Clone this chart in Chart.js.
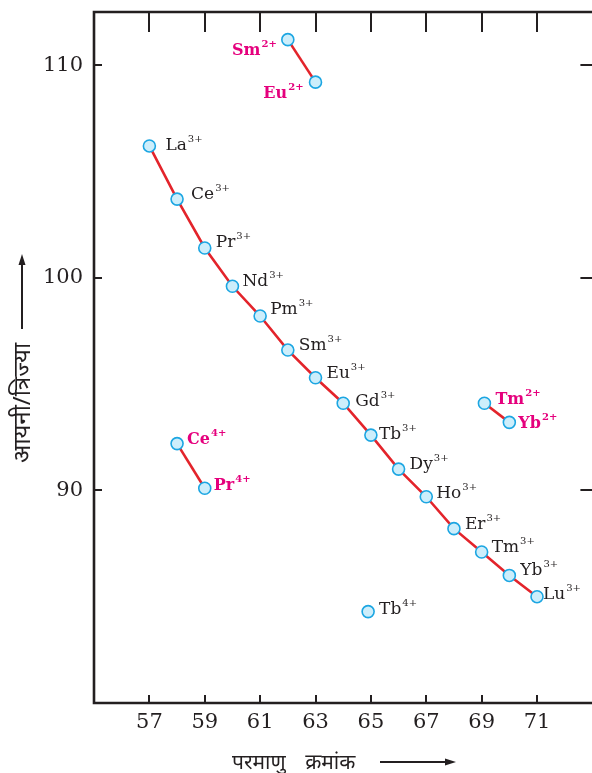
<!DOCTYPE html>
<html><head><meta charset="utf-8">
<script src="https://cdn.jsdelivr.net/npm/chart.js@4.4.1/dist/chart.umd.min.js"></script>
<style>html,body{margin:0;padding:0;background:#fff;overflow:hidden;width:592px;height:773px}</style>
</head><body>
<canvas id="c" width="600" height="773" style="width:600px;height:773px;display:block"></canvas>
<script>
// ---------- data ----------
const xTicks = [57, 59, 61, 63, 65, 67, 69, 71];
const yTicks = [90, 100, 110];

const ln3Atomic = [57, 58, 59, 60, 61, 62, 63, 64, 65, 66, 67, 68, 69, 70, 71];
const ln3Radius = [106.2, 103.7, 101.4, 99.6, 98.2, 96.6, 95.3, 94.1, 92.6, 91.0, 89.7, 88.2, 87.1, 86.0, 85.0];
const ln3Names  = ['La', 'Ce', 'Pr', 'Nd', 'Pm', 'Sm', 'Eu', 'Gd', 'Tb', 'Dy', 'Ho', 'Er', 'Tm', 'Yb', 'Lu'];
const ln3Charge = '3+';

const smEuAtomic = [62, 63];
const smEuRadius = [111.2, 109.2];
const smEuNames  = ['Sm', 'Eu'];
const smEuCharge = '2+';

const cePrAtomic = [58, 59];
const cePrRadius = [92.2, 90.1];
const cePrNames  = ['Ce', 'Pr'];
const cePrCharge = '4+';

const tmYbAtomic = [69.1, 70];
const tmYbRadius = [94.1, 93.2];
const tmYbNames  = ['Tm', 'Yb'];
const tmYbCharge = '2+';

const tb4Atomic = [64.9];
const tb4Radius = [84.3];
const tb4Names  = ['Tb'];
const tb4Charge = '4+';

const xTitle = 'परमाणु क्रमांक';
const yTitle = 'आयनी/त्रिज्या';

// ---------- label placement (pixel offsets from the point) ----------
const ln3Offsets = [[16,4],[14,0],[11,-1],[10,0],[10,-2],[11,0],[11,0],[12,3],[8,4],[11,0],[10,1],[11,0],[10,0],[11,0],[6,2]];
const smEuOffsets = [[-11,15],[-12,16]];
const cePrOffsets = [[10,0],[9,2]];
const tmYbOffsets = [[11,1],[9,6]];
const tb4Offsets = [[11,2]];

const SERIF = '"DejaVu Serif", "Liberation Serif", serif';
const DEVA = '"Noto Sans", "DejaVu Sans", sans-serif';
const INK = '#231f20';
const PINK = '#e5007d';
const RED = '#e3242b';

function pts(xs, ys) { return xs.map((x, i) => ({ x: x, y: ys[i] })); }

const pointStyle = {
  pointRadius: 6, pointHoverRadius: 6,
  pointBackgroundColor: '#cdeefb', pointBorderColor: '#1ca6e2', pointBorderWidth: 1.6,
  borderColor: RED, borderWidth: 2.6, tension: 0
};

const datasets = [
  Object.assign({ label: 'M3+', data: pts(ln3Atomic, ln3Radius), showLine: true,
    names: ln3Names, charge: ln3Charge, offsets: ln3Offsets, pink: false }, pointStyle),
  Object.assign({ label: 'Sm/Eu 2+', data: pts(smEuAtomic, smEuRadius), showLine: true,
    names: smEuNames, charge: smEuCharge, offsets: smEuOffsets, pink: true, alignRight: true }, pointStyle),
  Object.assign({ label: 'Ce/Pr 4+', data: pts(cePrAtomic, cePrRadius), showLine: true,
    names: cePrNames, charge: cePrCharge, offsets: cePrOffsets, pink: true }, pointStyle),
  Object.assign({ label: 'Tm/Yb 2+', data: pts(tmYbAtomic, tmYbRadius), showLine: true,
    names: tmYbNames, charge: tmYbCharge, offsets: tmYbOffsets, pink: true }, pointStyle),
  Object.assign({ label: 'Tb 4+', data: pts(tb4Atomic, tb4Radius), showLine: false,
    names: tb4Names, charge: tb4Charge, offsets: tb4Offsets, pink: false }, pointStyle)
];

function drawIonLabel(ctx, x, y, base, sup, pink, alignRight) {
  const f = pink ? 'bold 16px ' + SERIF : '17px ' + SERIF;
  const fs = pink ? 'bold 10px ' + SERIF : '10px ' + SERIF;
  ctx.font = f; const w = ctx.measureText(base).width;
  ctx.font = fs; const ws = ctx.measureText(sup).width;
  const left = alignRight ? x - w - 1 - ws : x;
  ctx.fillStyle = pink ? PINK : INK;
  ctx.textAlign = 'left'; ctx.textBaseline = 'alphabetic';
  ctx.font = f; ctx.fillText(base, left, y);
  ctx.font = fs; ctx.fillText(sup, left + w + 1, y - 8);
}

const decor = {
  id: 'decor',
  afterDatasetsDraw(chart) {
    const ctx = chart.ctx;
    ctx.save();
    chart.data.datasets.forEach((ds, di) => {
      const meta = chart.getDatasetMeta(di);
      meta.data.forEach((el, i) => {
        const o = ds.offsets[i];
        drawIonLabel(ctx, el.x + o[0], el.y + o[1], ds.names[i], ds.charge, ds.pink, ds.alignRight);
      });
    });
    ctx.restore();
  },
  afterDraw(chart) {
    const ctx = chart.ctx, a = chart.chartArea;
    const xs = chart.scales.x, ys = chart.scales.y;
    ctx.save();
    ctx.strokeStyle = INK; ctx.lineCap = 'butt';
    // frame: left, top, bottom
    ctx.lineWidth = 2.6;
    ctx.beginPath();
    ctx.moveTo(a.right + 5, a.top); ctx.lineTo(a.left, a.top);
    ctx.lineTo(a.left, a.bottom); ctx.lineTo(a.right + 5, a.bottom);
    ctx.stroke();
    // ticks
    ctx.lineWidth = 2;
    xTicks.forEach(v => {
      const px = Math.round(xs.getPixelForValue(v));
      ctx.beginPath(); ctx.moveTo(px, a.top); ctx.lineTo(px, a.top + 20); ctx.stroke();
      ctx.beginPath(); ctx.moveTo(px, a.bottom); ctx.lineTo(px, a.bottom - 8); ctx.stroke();
    });
    yTicks.forEach(v => {
      const py = Math.round(ys.getPixelForValue(v));
      ctx.beginPath(); ctx.moveTo(a.left, py); ctx.lineTo(a.left + 8, py); ctx.stroke();
      ctx.beginPath(); ctx.moveTo(a.right, py); ctx.lineTo(a.right - 12, py); ctx.stroke();
    });
    // y title + arrow
    ctx.fillStyle = INK;
    ctx.font = '24px ' + DEVA;
    ctx.save();
    ctx.translate(23, 403);
    ctx.rotate(-Math.PI / 2);
    ctx.textAlign = 'center'; ctx.textBaseline = 'middle';
    ctx.fillText(yTitle, 0, 0);
    ctx.restore();
    ctx.lineWidth = 2;
    ctx.beginPath(); ctx.moveTo(22, 329); ctx.lineTo(22, 262); ctx.stroke();
    ctx.beginPath(); ctx.moveTo(22, 254); ctx.lineTo(18.5, 265); ctx.lineTo(25.5, 265); ctx.closePath(); ctx.fill();
    // x title + arrow
    ctx.font = '21px ' + DEVA;
    if ('wordSpacing' in ctx) ctx.wordSpacing = '14px';
    ctx.textAlign = 'left'; ctx.textBaseline = 'middle';
    ctx.fillText(xTitle, 232, 763);
    if ('wordSpacing' in ctx) ctx.wordSpacing = '0px';
    ctx.beginPath(); ctx.moveTo(380, 762); ctx.lineTo(446, 762); ctx.stroke();
    ctx.beginPath(); ctx.moveTo(456, 762); ctx.lineTo(445, 758.5); ctx.lineTo(445, 765.5); ctx.closePath(); ctx.fill();
    ctx.restore();
  }
};

new Chart(document.getElementById('c'), {
  type: 'scatter',
  data: { datasets: datasets },
  options: {
    responsive: false, animation: false, devicePixelRatio: 1,
    layout: { padding: { left: 0, top: 12, right: 4.5, bottom: 0 } },
    plugins: { legend: { display: false }, tooltip: { enabled: false } },
    scales: {
      x: {
        type: 'linear', min: 55, max: 73,
        afterBuildTicks: s => { s.ticks = xTicks.map(v => ({ value: v })); },
        afterFit: s => { s.height = 70; s.paddingLeft = 0; s.paddingRight = 0; },
        grid: { display: false, drawTicks: false }, border: { display: false },
        ticks: { color: INK, padding: 7, font: { family: SERIF, size: 21 }, maxRotation: 0, autoSkip: false }
      },
      y: {
        type: 'linear', min: 80, max: 112.5,
        afterBuildTicks: s => { s.ticks = yTicks.map(v => ({ value: v })); },
        afterFit: s => { s.width = 94; s.paddingTop = 0; s.paddingBottom = 0; },
        grid: { display: false, drawTicks: false }, border: { display: false },
        ticks: { color: INK, padding: 11, font: { family: SERIF, size: 21 }, autoSkip: false }
      }
    }
  },
  plugins: [decor]
});
</script>
</body></html>
